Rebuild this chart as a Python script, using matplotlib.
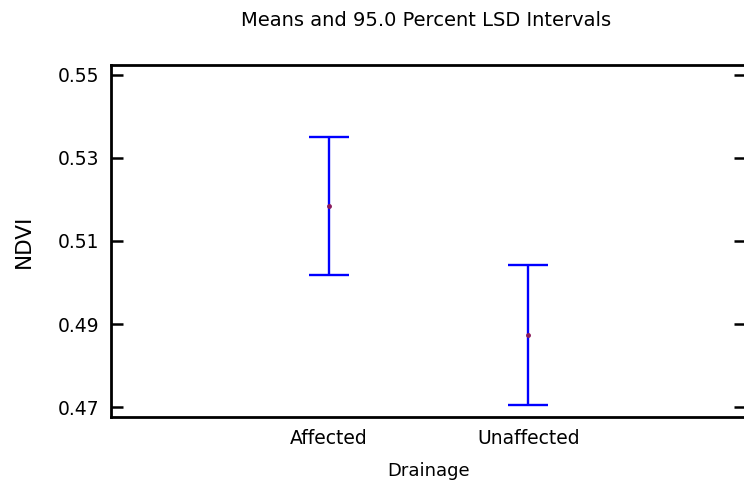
import matplotlib
matplotlib.use("Agg")
import matplotlib.pyplot as plt
import numpy as np

# data
groups = ['Affected', 'Unaffected']
means = [0.5184, 0.4874]
lower = [0.5018, 0.4705]
upper = [0.5351, 0.5043]
yticks = [0.47, 0.49, 0.51, 0.53, 0.55]

plt.rcParams['font.family'] = ['DejaVu Sans']

fig = plt.figure(figsize=(7.44, 4.84), dpi=100)
W, H = 744, 484
# axes box in pixels: left 111, right 746, top 65, bottom 417
ax = fig.add_axes([111 / W, 1 - 417 / H, (746 - 111) / W, (417 - 65) / H])

x = np.arange(1, len(groups) + 1)
m = np.array(means)
err = np.vstack([m - np.array(lower), np.array(upper) - m])
ax.errorbar(x, m, yerr=err, fmt='none', ecolor='#0000ff', elinewidth=1.7,
            capsize=14.4, capthick=1.7)
ax.plot(x, m, 'o', color='#8b1a5a', markersize=2.5, zorder=3)

ax.set_xlim(-0.09, 3.09)
ax.set_ylim(0.4676, 0.5524)
ax.set_yticks(yticks)
ax.set_yticklabels(['%.2f' % v for v in yticks])
ax.set_xticks(x)
ax.set_xticklabels(groups)

for s in ['left', 'bottom', 'top', 'right']:
    ax.spines[s].set_linewidth(2.0)
ax.tick_params(axis='y', direction='in', length=8.6, width=1.8,
               labelsize=13.5, pad=8.5, right=True)
ax.tick_params(axis='x', length=0, labelsize=13.5, pad=9)

ax.set_xlabel('Drainage', fontsize=13, labelpad=10)
ax.set_ylabel('NDVI', fontsize=15.5, labelpad=17)
fig.text(426 / W, 1 - 20 / H, 'Means and 95.0 Percent LSD Intervals',
         ha='center', va='center', fontsize=14)

fig.savefig('out.png', dpi=100)
